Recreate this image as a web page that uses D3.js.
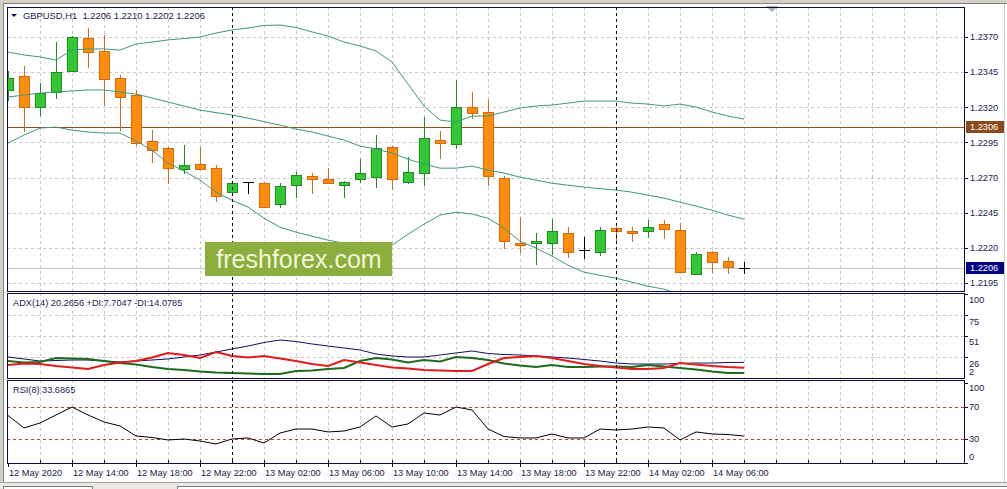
<!DOCTYPE html>
<html><head><meta charset="utf-8">
<script src="https://cdn.jsdelivr.net/npm/d3@7"></script>
<style>
body{margin:0;background:#fff;overflow:hidden;}
svg{display:block;}
text{font-family:"Liberation Sans",Arial,sans-serif;}
</style>
</head><body>
<svg id="c" width="1007" height="489"></svg>
<script>
// ---------- data ----------
const symbolTitle = "GBPUSD,H1  1.2206 1.2210 1.2202 1.2206";
const adxTitle = "ADX(14) 20.2656 +DI:7.7047 -DI:14.0785";
const rsiTitle = "RSI(8) 33.6865";

const open  = [1.23323,1.23422,1.23202,1.23308,1.23458,1.23693,1.23600,1.23408,1.23287,1.22960,
               1.22910,1.22760,1.22796,1.22767,1.22596,1.22668,1.22660,1.22511,1.22646,1.22710,
               1.22689,1.22646,1.22689,1.22703,1.22917,1.22668,1.22732,1.22967,1.22938,1.23202,
               1.23166,1.22696,1.22233,1.22233,1.22233,1.22304,1.22184,1.22169,1.22340,1.22319,
               1.22319,1.22369,1.22326,1.22013,1.22169,1.22105,1.2206];
const high  = [1.23458,1.23494,1.23372,1.23664,1.23705,1.23764,1.23714,1.23429,1.23323,1.23038,
               1.22917,1.22931,1.22917,1.22789,1.22660,1.22668,1.22668,1.22660,1.22739,1.22732,
               1.22767,1.22675,1.22831,1.23002,1.22924,1.22846,1.23130,1.23031,1.23394,1.23308,
               1.23251,1.22710,1.22418,1.22304,1.22404,1.22347,1.22276,1.22347,1.22347,1.22347,
               1.22397,1.22397,1.22376,1.22169,1.22177,1.22134,1.2210];
const low   = [1.23251,1.23031,1.23145,1.23266,1.23458,1.23486,1.23216,1.23038,1.22931,1.22810,
               1.22660,1.22732,1.22760,1.22532,1.22575,1.22589,1.22490,1.22490,1.22561,1.22589,
               1.22660,1.22561,1.22668,1.22632,1.22618,1.22660,1.22646,1.22838,1.22910,1.23123,
               1.22646,1.22198,1.22169,1.22084,1.22155,1.22134,1.22127,1.22148,1.22240,1.22248,
               1.22276,1.22269,1.22027,1.22013,1.22027,1.22020,1.2202];
const close = [1.23408,1.23202,1.23301,1.23451,1.23700,1.23593,1.23401,1.23273,1.22945,1.22895,
               1.22767,1.22789,1.22760,1.22568,1.22660,1.22668,1.22490,1.22639,1.22717,1.22689,
               1.22660,1.22668,1.22732,1.22910,1.22689,1.22739,1.22981,1.22945,1.23202,1.23159,
               1.22710,1.22248,1.22219,1.22248,1.22319,1.22169,1.22184,1.22326,1.22319,1.22304,
               1.22347,1.22333,1.22027,1.22155,1.22098,1.22062,1.2206];

const bbUpper  = [1.23593,1.23572,1.23558,1.23536,1.23607,1.23615,1.23615,1.23607,1.23650,1.23664,
                  1.23679,1.23689,1.23700,1.23728,1.23750,1.23764,1.23782,1.23785,1.23768,1.23736,
                  1.23707,1.23664,1.23636,1.23600,1.23522,1.23365,1.23209,1.23109,1.23095,1.23138,
                  1.23138,1.23166,1.23195,1.23209,1.23216,1.23230,1.23244,1.23244,1.23244,1.23230,
                  1.23223,1.23209,1.23223,1.23202,1.23166,1.23138,1.23116];
const bbMiddle = [1.23273,1.23287,1.23301,1.23308,1.23316,1.23323,1.23323,1.23308,1.23294,1.23266,
                  1.23237,1.23209,1.23180,1.23162,1.23145,1.23123,1.23098,1.23073,1.23045,1.23024,
                  1.22995,1.22967,1.22924,1.22903,1.22874,1.22831,1.22796,1.22767,1.22767,1.22782,
                  1.22753,1.22732,1.22703,1.22682,1.22660,1.22646,1.22632,1.22621,1.22611,1.22596,
                  1.22575,1.22554,1.22525,1.22497,1.22468,1.22433,1.22404];
const bbLower  = [1.22945,1.23002,1.23052,1.23059,1.23038,1.23024,1.23017,1.23017,1.22960,1.22895,
                  1.22803,1.22746,1.22682,1.22596,1.22539,1.22490,1.22411,1.22347,1.22312,1.22283,
                  1.22255,1.22233,1.22212,1.22205,1.22219,1.22297,1.22369,1.22433,1.22454,1.22440,
                  1.22411,1.22340,1.22248,1.22198,1.22141,1.22077,1.22027,1.22005,1.21984,1.21956,
                  1.21927,1.21906,1.21870,1.21842,1.21813,1.21785,1.21756];

const adx     = [26.5,24.2,21.8,22.4,23.0,23.0,21.8,20.7,21.8,23.0,
                 24.2,26.5,28.8,32.3,35.8,39.3,43.4,46.3,44.6,41.7,
                 39.3,37.0,34.7,30.0,27.7,26.5,26.5,28.8,31.2,33.5,
                 30.6,29.4,28.8,27.7,26.5,25.3,23.6,21.8,19.5,18.3,
                 18.3,18.3,18.9,19.5,19.5,20.1,20.2656];
const plusDI  = [21.8,20.1,20.7,25.3,24.8,24.2,21.8,19.5,17.8,14.8,
                 12.5,11.3,9.6,8.4,7.8,7.3,6.7,6.7,10.2,10.8,
                 12.5,13.7,21.8,25.3,23.6,20.1,23.0,21.3,26.5,25.3,
                 23.0,18.9,16.6,14.8,17.2,14.8,14.8,15.4,15.4,14.8,
                 17.2,15.4,13.7,11.9,9.6,7.8,7.7047];
const minusDI = [17.2,18.9,18.3,16.0,14.3,12.5,17.2,20.1,21.8,25.9,
                 31.2,28.8,25.3,32.3,27.7,25.9,27.7,24.8,21.8,18.3,
                 16.0,23.0,20.1,17.2,14.3,13.1,11.3,10.8,10.2,10.2,
                 18.3,25.3,26.5,27.7,25.3,21.8,18.3,16.0,14.3,12.5,
                 12.5,13.7,19.5,17.8,16.0,14.8,14.0785];
const rsi     = [59.4,43.8,50.0,60.0,70.0,60.0,51.3,46.3,33.8,31.9,
                 28.8,30.0,27.5,23.8,30.0,31.3,25.0,37.5,42.5,42.5,
                 38.8,40.0,45.0,58.8,45.0,48.8,62.5,60.0,70.0,66.3,
                 42.5,33.1,31.3,31.3,36.3,31.3,31.3,42.5,41.3,42.5,
                 45.0,43.8,28.8,38.8,36.3,35.6,33.6865];

const priceTicks = [1.2370,1.2345,1.2320,1.2295,1.2270,1.2245,1.2220,1.2195];
const adxTicks = [100,75,51,26,2];
const rsiScaleTicks = [100,0];
const rsiLevels = [70,30];
const timeLabels = ["12 May 2020","12 May 14:00","12 May 18:00","12 May 22:00","13 May 02:00","13 May 06:00",
                    "13 May 10:00","13 May 14:00","13 May 18:00","13 May 22:00","14 May 02:00","14 May 06:00"];
const timeLabelBars = [0,4,8,12,16,20,24,28,32,36,40,44];
const daySeparatorBars = [14,38];
const pricelineValue = 1.2306;
const bidValue = 1.2206;
const watermark = "freshforex.com";

// ---------- layout ----------
const svg = d3.select("#c");
const W = 1007, H = 489;
const L = 7, R = 964;
const P = {main:{t:7,b:291}, adx:{t:293,b:378}, rsi:{t:380,b:463}};
const TXT = "#1a1a50", FS = "9.2px";

const x = d3.scaleLinear().domain([0,1]).range([8,24]);
const yP = d3.scaleLinear().domain([1.2195,1.2370]).range([283,37]);
const yA = d3.scaleLinear().domain([2,100]).range([378,294]);
const yR = d3.scaleLinear().domain([0,100]).range([463,383]);
const nBars = open.length;
const gridBars = d3.range(2, 60, 2);

svg.append("rect").attr("width",W).attr("height",H).attr("fill","#fff");

const defs = svg.append("defs");
Object.entries(P).forEach(([k,p])=>{
  defs.append("clipPath").attr("id","clip_"+k).append("rect")
    .attr("x",L+1).attr("y",p.t+1).attr("width",R-L-1).attr("height",p.b-p.t-1);
});

// window frame
svg.append("rect").attr("x",0).attr("y",0).attr("width",W).attr("height",3).attr("fill","#d4d0c8");
svg.append("line").attr("x1",0).attr("x2",W).attr("y1",3.5).attr("y2",3.5).attr("stroke","#808080");
svg.append("rect").attr("x",0).attr("y",0).attr("width",3).attr("height",H).attr("fill","#d4d0c8");
svg.append("line").attr("x1",3.5).attr("x2",3.5).attr("y1",3).attr("y2",482).attr("stroke","#808080");
svg.append("line").attr("x1",1004.5).attr("x2",1004.5).attr("y1",4).attr("y2",482).attr("stroke","#c8c8c8");
svg.append("rect").attr("x",0).attr("y",482).attr("width",W).attr("height",7).attr("fill","#ece9e4");
svg.append("line").attr("x1",0).attr("x2",W).attr("y1",482.5).attr("y2",482.5).attr("stroke","#a0a0a0");
svg.append("rect").attr("x",3.5).attr("y",486.5).attr("width",89).attr("height",6).attr("fill","#fff").attr("stroke","#808080");
svg.append("rect").attr("x",177.5).attr("y",486.5).attr("width",830).attr("height",6).attr("fill","#fff").attr("stroke","#808080");
// chart-shift marker
svg.append("path").attr("d","M766,6L778,6L772,12Z").attr("fill","#b0b0b0");

function paneGrid(key, hTicks, yScale){
  const p = P[key];
  const g = svg.append("g");
  g.selectAll("line.v").data(gridBars).join("line")
    .attr("x1",d=>x(d)+0.5).attr("x2",d=>x(d)+0.5).attr("y1",p.t).attr("y2",p.b)
    .attr("stroke","#c8c8c8").attr("stroke-dasharray","3,3");
  if(hTicks){
    g.selectAll("line.h").data(hTicks).join("line")
      .attr("x1",L).attr("x2",R).attr("y1",d=>Math.round(yScale(d))+0.5).attr("y2",d=>Math.round(yScale(d))+0.5)
      .attr("stroke","#c8c8c8").attr("stroke-dasharray","3,3");
  }
}
paneGrid("main", priceTicks, yP);
paneGrid("adx", [75,51,26], yA);
paneGrid("rsi", null, null);

// ---------- main pane ----------
const gm = svg.append("g").attr("clip-path","url(#clip_main)");
gm.append("line").attr("x1",L).attr("x2",R).attr("y1",Math.round(yP(pricelineValue))+0.5).attr("y2",Math.round(yP(pricelineValue))+0.5)
  .attr("stroke","#8b4e1e");
gm.append("line").attr("x1",L).attr("x2",R).attr("y1",Math.round(yP(bidValue))+0.5).attr("y2",Math.round(yP(bidValue))+0.5)
  .attr("stroke","#c8c8c8");

const bars = d3.range(nBars).map(i=>({i,o:open[i],h:high[i],l:low[i],c:close[i]}));
bars.forEach(b=>{
  const cx = Math.round(x(b.i))+0.5;
  const doji = b.o===b.c;
  const up = b.c>b.o;
  const wick = doji ? "#000" : (up ? "#238b23" : "#d66a10");
  gm.append("line").attr("x1",cx).attr("x2",cx)
    .attr("y1",Math.round(yP(b.h))).attr("y2",Math.round(yP(b.l))+1).attr("stroke",wick);
  if(doji){
    const yy = Math.round(yP(b.o))+0.5;
    gm.append("line").attr("x1",cx-5.5).attr("x2",cx+5.5).attr("y1",yy).attr("y2",yy).attr("stroke","#000");
  } else {
    const yt = Math.round(yP(Math.max(b.o,b.c))), yb = Math.round(yP(Math.min(b.o,b.c)));
    gm.append("rect").attr("x",cx-5).attr("y",yt+0.5).attr("width",10).attr("height",Math.max(yb-yt,1))
      .attr("fill", up ? "#32c832" : "#ff8c0a")
      .attr("stroke", up ? "#238b23" : "#d66a10");
  }
});

const bandLine = d3.line().x((d,i)=>x(i)).y(d=>yP(d));
[bbUpper,bbMiddle,bbLower].forEach(arr=>{
  gm.append("path").attr("d",bandLine(arr)).attr("fill","none").attr("stroke","#3f977a").attr("stroke-width",1);
});

// ---------- ADX pane ----------
const ga = svg.append("g").attr("clip-path","url(#clip_adx)");
const adxLine = d3.line().x((d,i)=>x(i)).y(d=>yA(d));
ga.append("path").attr("d",adxLine(adx)).attr("fill","none").attr("stroke","#101060").attr("stroke-width",1);
ga.append("path").attr("d",adxLine(plusDI)).attr("fill","none").attr("stroke","#1e6a1e").attr("stroke-width",2);
ga.append("path").attr("d",adxLine(minusDI)).attr("fill","none").attr("stroke","#e01c1c").attr("stroke-width",2);

// ---------- RSI pane ----------
const gr = svg.append("g").attr("clip-path","url(#clip_rsi)");
gr.selectAll("line.lvl").data(rsiLevels).join("line")
  .attr("x1",L).attr("x2",R).attr("y1",d=>Math.round(yR(d))+0.5).attr("y2",d=>Math.round(yR(d))+0.5)
  .attr("stroke","#c83c3c").attr("stroke-dasharray","3,3");
const rsiLine = d3.line().x((d,i)=>x(i)).y(d=>yR(d));
gr.append("path").attr("d",rsiLine(rsi)).attr("fill","none").attr("stroke","#000").attr("stroke-width",1);

// day separators
daySeparatorBars.forEach(b=>{
  const xx = x(b)+0.5;
  Object.values(P).forEach(p=>{
    svg.append("line").attr("x1",xx).attr("x2",xx).attr("y1",p.t).attr("y2",p.b)
      .attr("stroke","#000").attr("stroke-dasharray","3,3");
  });
});

// pane borders
Object.values(P).forEach(p=>{
  svg.append("rect").attr("x",L+0.5).attr("y",p.t+0.5).attr("width",R-L).attr("height",p.b-p.t)
    .attr("fill","none").attr("stroke","#0c0c3c");
});

// ---------- axes ----------
const pa = svg.append("g");
pa.selectAll("line").data(priceTicks).join("line")
  .attr("x1",R).attr("x2",R+4).attr("y1",d=>Math.round(yP(d))+0.5).attr("y2",d=>Math.round(yP(d))+0.5).attr("stroke","#0c0c3c");
pa.selectAll("text").data(priceTicks).join("text")
  .attr("x",R+6).attr("y",d=>yP(d)).attr("dy","0.35em").attr("font-size",FS).attr("fill",TXT)
  .text(d=>d.toFixed(4));

function priceBox(v, fill){
  const yy = Math.round(yP(v));
  svg.append("rect").attr("x",R+2).attr("y",yy-6).attr("width",38).attr("height",12).attr("fill",fill);
  svg.append("text").attr("x",R+6).attr("y",yy).attr("dy","0.35em").attr("font-size",FS).attr("fill","#fff").text(v.toFixed(4));
}
priceBox(pricelineValue, "#8b4a1a");
priceBox(bidValue, "#000080");

const aa = svg.append("g");
aa.selectAll("line").data(adxTicks.filter(d=>d!==2)).join("line")
  .attr("x1",R).attr("x2",R+4).attr("y1",d=>Math.round(yA(d))+0.5).attr("y2",d=>Math.round(yA(d))+0.5).attr("stroke","#0c0c3c");
aa.selectAll("text").data(adxTicks).join("text")
  .attr("x",R+5).attr("y",d=>Math.min(yA(d)+6, P.adx.b-6)).attr("dy","0.35em").attr("font-size",FS).attr("fill",TXT)
  .text(d=>d);

const ra = svg.append("g");
ra.selectAll("line").data(rsiScaleTicks.concat(rsiLevels)).join("line")
  .attr("x1",R).attr("x2",R+4).attr("y1",d=>Math.round(yR(d))+0.5).attr("y2",d=>Math.round(yR(d))+0.5).attr("stroke","#0c0c3c");
ra.selectAll("text.s").data(rsiScaleTicks).join("text")
  .attr("x",R+5).attr("y",d=>Math.min(yR(d)+5, P.rsi.b-6)).attr("dy","0.35em").attr("font-size",FS).attr("fill",TXT)
  .text(d=>d);
ra.selectAll("text.l").data(rsiLevels).join("text")
  .attr("x",R+5).attr("y",d=>yR(d)).attr("dy","0.35em").attr("font-size",FS).attr("fill",TXT)
  .text(d=>d);

const ta = svg.append("g");
ta.selectAll("line.g").data(gridBars).join("line")
  .attr("x1",d=>x(d)+0.5).attr("x2",d=>x(d)+0.5).attr("y1",P.rsi.b-3).attr("y2",P.rsi.b)
  .attr("stroke","#0c0c3c");
ta.selectAll("line.t").data(timeLabelBars).join("line")
  .attr("x1",d=>x(d)+0.5).attr("x2",d=>x(d)+0.5).attr("y1",P.rsi.b).attr("y2",P.rsi.b+4)
  .attr("stroke","#0c0c3c");
ta.selectAll("text").data(timeLabelBars).join("text")
  .attr("x",d=>x(d)+1).attr("y",473).attr("dy","0.35em").attr("font-size",FS).attr("fill",TXT)
  .text((d,i)=>timeLabels[i]);

// titles
svg.append("path").attr("d","M11,14L17,14L14,17Z").attr("fill","#101050");
svg.append("text").attr("x",23).attr("y",15.5).attr("dy","0.35em").attr("font-size","9.4px").attr("fill",TXT)
  .attr("xml:space","preserve").style("white-space","pre").text(symbolTitle);
svg.append("text").attr("x",13).attr("y",303).attr("dy","0.35em").attr("font-size",FS).attr("fill",TXT).text(adxTitle);
svg.append("text").attr("x",13).attr("y",390).attr("dy","0.35em").attr("font-size",FS).attr("fill",TXT).text(rsiTitle);

// watermark
svg.append("rect").attr("x",205).attr("y",242).attr("width",187).attr("height",34).attr("fill","#8cae3c");
svg.append("text").attr("x",299).attr("y",259).attr("dy","0.36em").attr("text-anchor","middle")
  .attr("font-family","'Open Sans','Noto Sans',sans-serif").attr("font-size","25px").attr("fill","#f2f6dc")
  .text(watermark);
</script>
</body></html>
